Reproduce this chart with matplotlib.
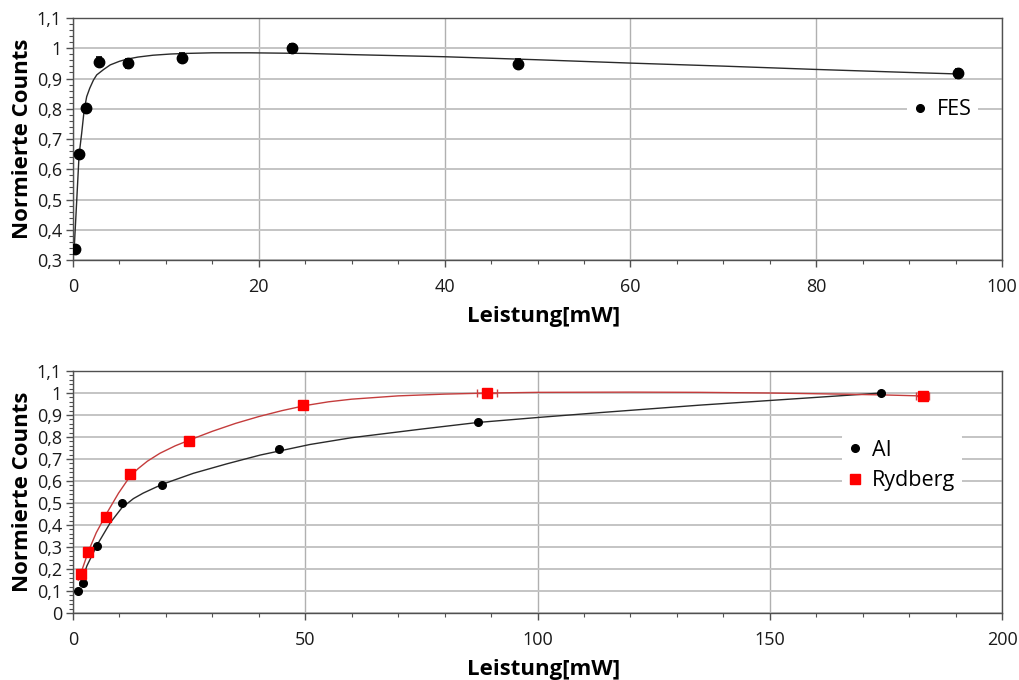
import matplotlib
matplotlib.use("Agg")
import matplotlib.pyplot as plt
from matplotlib.ticker import MultipleLocator, FuncFormatter
from matplotlib.lines import Line2D

plt.rcParams['font.family'] = ['Open Sans', 'DejaVu Sans']

# ---- Top panel: FES ----
fes_x = [0.22, 0.65, 1.37, 2.84, 5.96, 11.7, 23.6, 47.9, 95.3]
fes_y = [0.336, 0.651, 0.801, 0.956, 0.951, 0.969, 1.000, 0.949, 0.918]
fes_err = [0.008, 0.010, 0.012, 0.015, 0.015, 0.015, 0.015, 0.015, 0.015]

fes_fit_x = [0.1, 0.4, 0.65, 0.93, 1.2, 1.47, 1.8, 2.2, 2.55, 3.3, 4.0, 5.0, 5.8,
             7.0, 8.6, 10.5, 12.2, 15, 19, 25, 30, 40, 50, 60, 70, 80, 90, 95.3]
fes_fit_y = [0.323, 0.498, 0.647, 0.719, 0.796, 0.840, 0.868, 0.895, 0.912, 0.930,
             0.945, 0.957, 0.964, 0.971, 0.977, 0.981, 0.983, 0.985, 0.985, 0.983,
             0.979, 0.972, 0.962, 0.951, 0.941, 0.930, 0.920, 0.915]

# ---- Bottom panel: AI and Rydberg ----
ai_x = [1.15, 2.2, 5.2, 10.5, 19.2, 44.3, 87.1, 174.0]
ai_y = [0.100, 0.138, 0.303, 0.500, 0.583, 0.745, 0.869, 1.000]

ryd_x = [1.65, 3.15, 7.1, 12.3, 25.0, 49.6, 89.1, 182.9]
ryd_y = [0.177, 0.278, 0.438, 0.631, 0.780, 0.946, 0.998, 0.986]
ryd_xerr = [0, 0, 0, 0, 0, 0, 2.1, 1.4]

ai_fit_x = [1.5, 3.0, 5.2, 8.0, 10.5, 13, 15.1, 19.2, 25.9, 33.1, 40.3, 51, 60, 75,
            87.1, 100.2, 113.5, 135, 150, 174]
ai_fit_y = [0.125, 0.215, 0.310, 0.410, 0.478, 0.520, 0.545, 0.585, 0.635, 0.678,
            0.718, 0.766, 0.797, 0.836, 0.866, 0.889, 0.911, 0.945, 0.966, 1.000]

ryd_fit_x = [1.15, 2.0, 3.3, 5.0, 7.3, 9.8, 12.3, 14, 16, 18.7, 22, 25.9, 30, 35, 40,
             45, 50, 55, 60, 70, 80, 90, 100, 120, 135, 150, 165, 175, 184]
ryd_fit_y = [0.150, 0.200, 0.280, 0.365, 0.455, 0.545, 0.622, 0.656, 0.690, 0.726,
             0.760, 0.793, 0.826, 0.862, 0.893, 0.920, 0.943, 0.960, 0.972, 0.987,
             0.995, 1.000, 1.003, 1.004, 1.003, 1.000, 0.995, 0.991, 0.986]

xlabel = "Leistung[mW]"
ylabel = "Normierte Counts"

fig = plt.figure(figsize=(10.2, 6.8), dpi=100)
ax1 = fig.add_axes([0.0716, 0.6176, 0.9108, 0.3559])
ax2 = fig.add_axes([0.0716, 0.0985, 0.9108, 0.3559])

def comma(v, pos):
    s = ("%.1f" % v)
    if s.endswith(".0"):
        s = s[:-2]
    return s.replace(".", ",")

def style(ax, xmax, xmaj, xmin, ymin):
    ax.set_xlim(0, xmax)
    ax.set_ylim(ymin, 1.1)
    ax.xaxis.set_major_locator(MultipleLocator(xmaj))
    ax.xaxis.set_minor_locator(MultipleLocator(xmin))
    ax.yaxis.set_major_locator(MultipleLocator(0.1))
    ax.yaxis.set_minor_locator(MultipleLocator(0.02))
    ax.yaxis.set_major_formatter(FuncFormatter(comma))
    ax.xaxis.set_major_formatter(FuncFormatter(lambda v, p: "%d" % v))
    ax.grid(True, which='major', axis='y', color='#c4c4c4', lw=1.4, zorder=0)
    ax.grid(True, which='major', axis='x', color='#b0b0b0', lw=1.0, zorder=0)
    ax.set_axisbelow(True)
    for s in ax.spines.values():
        s.set_color('#505050')
        s.set_linewidth(1.0)
    ax.tick_params(axis='both', which='major', direction='out', length=5,
                   width=1, color='#505050', labelsize=13, labelcolor='#1a1a1a')
    ax.tick_params(axis='x', which='major', pad=8)
    ax.tick_params(axis='y', which='major', pad=3)
    ax.tick_params(axis='both', which='minor', direction='out', length=3,
                   width=0.8, color='#505050')
    ax.set_xlabel(xlabel, fontsize=16, fontweight='bold', labelpad=7)
    ax.set_ylabel(ylabel, fontsize=16, fontweight='bold')
    ax.yaxis.set_label_coords(-0.043, 0.5)
    ax.xaxis.label.set_x(0.506)

style(ax1, 100, 20, 5, 0.3)
style(ax2, 200, 50, 10, 0.0)

# top
ax1.plot(fes_fit_x, fes_fit_y, color='#2a2a2a', lw=1.0, zorder=2)
ax1.errorbar(fes_x, fes_y, yerr=fes_err, fmt='o', color='black', ms=7.5,
             elinewidth=1.2, capsize=2.5, capthick=1.2, zorder=3)
h1 = [Line2D([], [], ls='none', marker='o', color='black', ms=5.5)]
leg1 = ax1.legend(h1, ['FES'], loc='center', bbox_to_anchor=(0.936, 0.62),
                  frameon=True, fontsize=15.5, handlelength=0.6, handletextpad=0.5,
                  borderpad=0.3, borderaxespad=0)
leg1.get_frame().set_facecolor('white')
leg1.get_frame().set_edgecolor('none')
leg1.get_frame().set_alpha(1)

# bottom
ax2.plot(ai_fit_x, ai_fit_y, color='#2a2a2a', lw=1.0, zorder=2)
ax2.plot(ryd_fit_x, ryd_fit_y, color='#c43c3c', lw=1.0, zorder=2)
ax2.plot(ai_x, ai_y, 'o', color='black', ms=5.5, zorder=3)
ax2.errorbar(ryd_x, ryd_y, xerr=ryd_xerr, fmt='s', color='#ff0000', ms=7,
             ecolor='#d04040', elinewidth=1.0, capsize=3, capthick=1.0, zorder=4)
h2 = [Line2D([], [], ls='none', marker='o', color='black', ms=5.5),
      Line2D([], [], ls='none', marker='s', color='#ff0000', ms=7)]
leg2 = ax2.legend(h2, ['AI', 'Rydberg'], loc='center', bbox_to_anchor=(0.892, 0.61),
                  frameon=True, fontsize=15.5, handlelength=0.6, handletextpad=0.5,
                  borderpad=0.3, borderaxespad=0, labelspacing=0.45)
leg2.get_frame().set_facecolor('white')
leg2.get_frame().set_edgecolor('none')
leg2.get_frame().set_alpha(1)

fig.savefig("out.png", dpi=100, facecolor='white')
